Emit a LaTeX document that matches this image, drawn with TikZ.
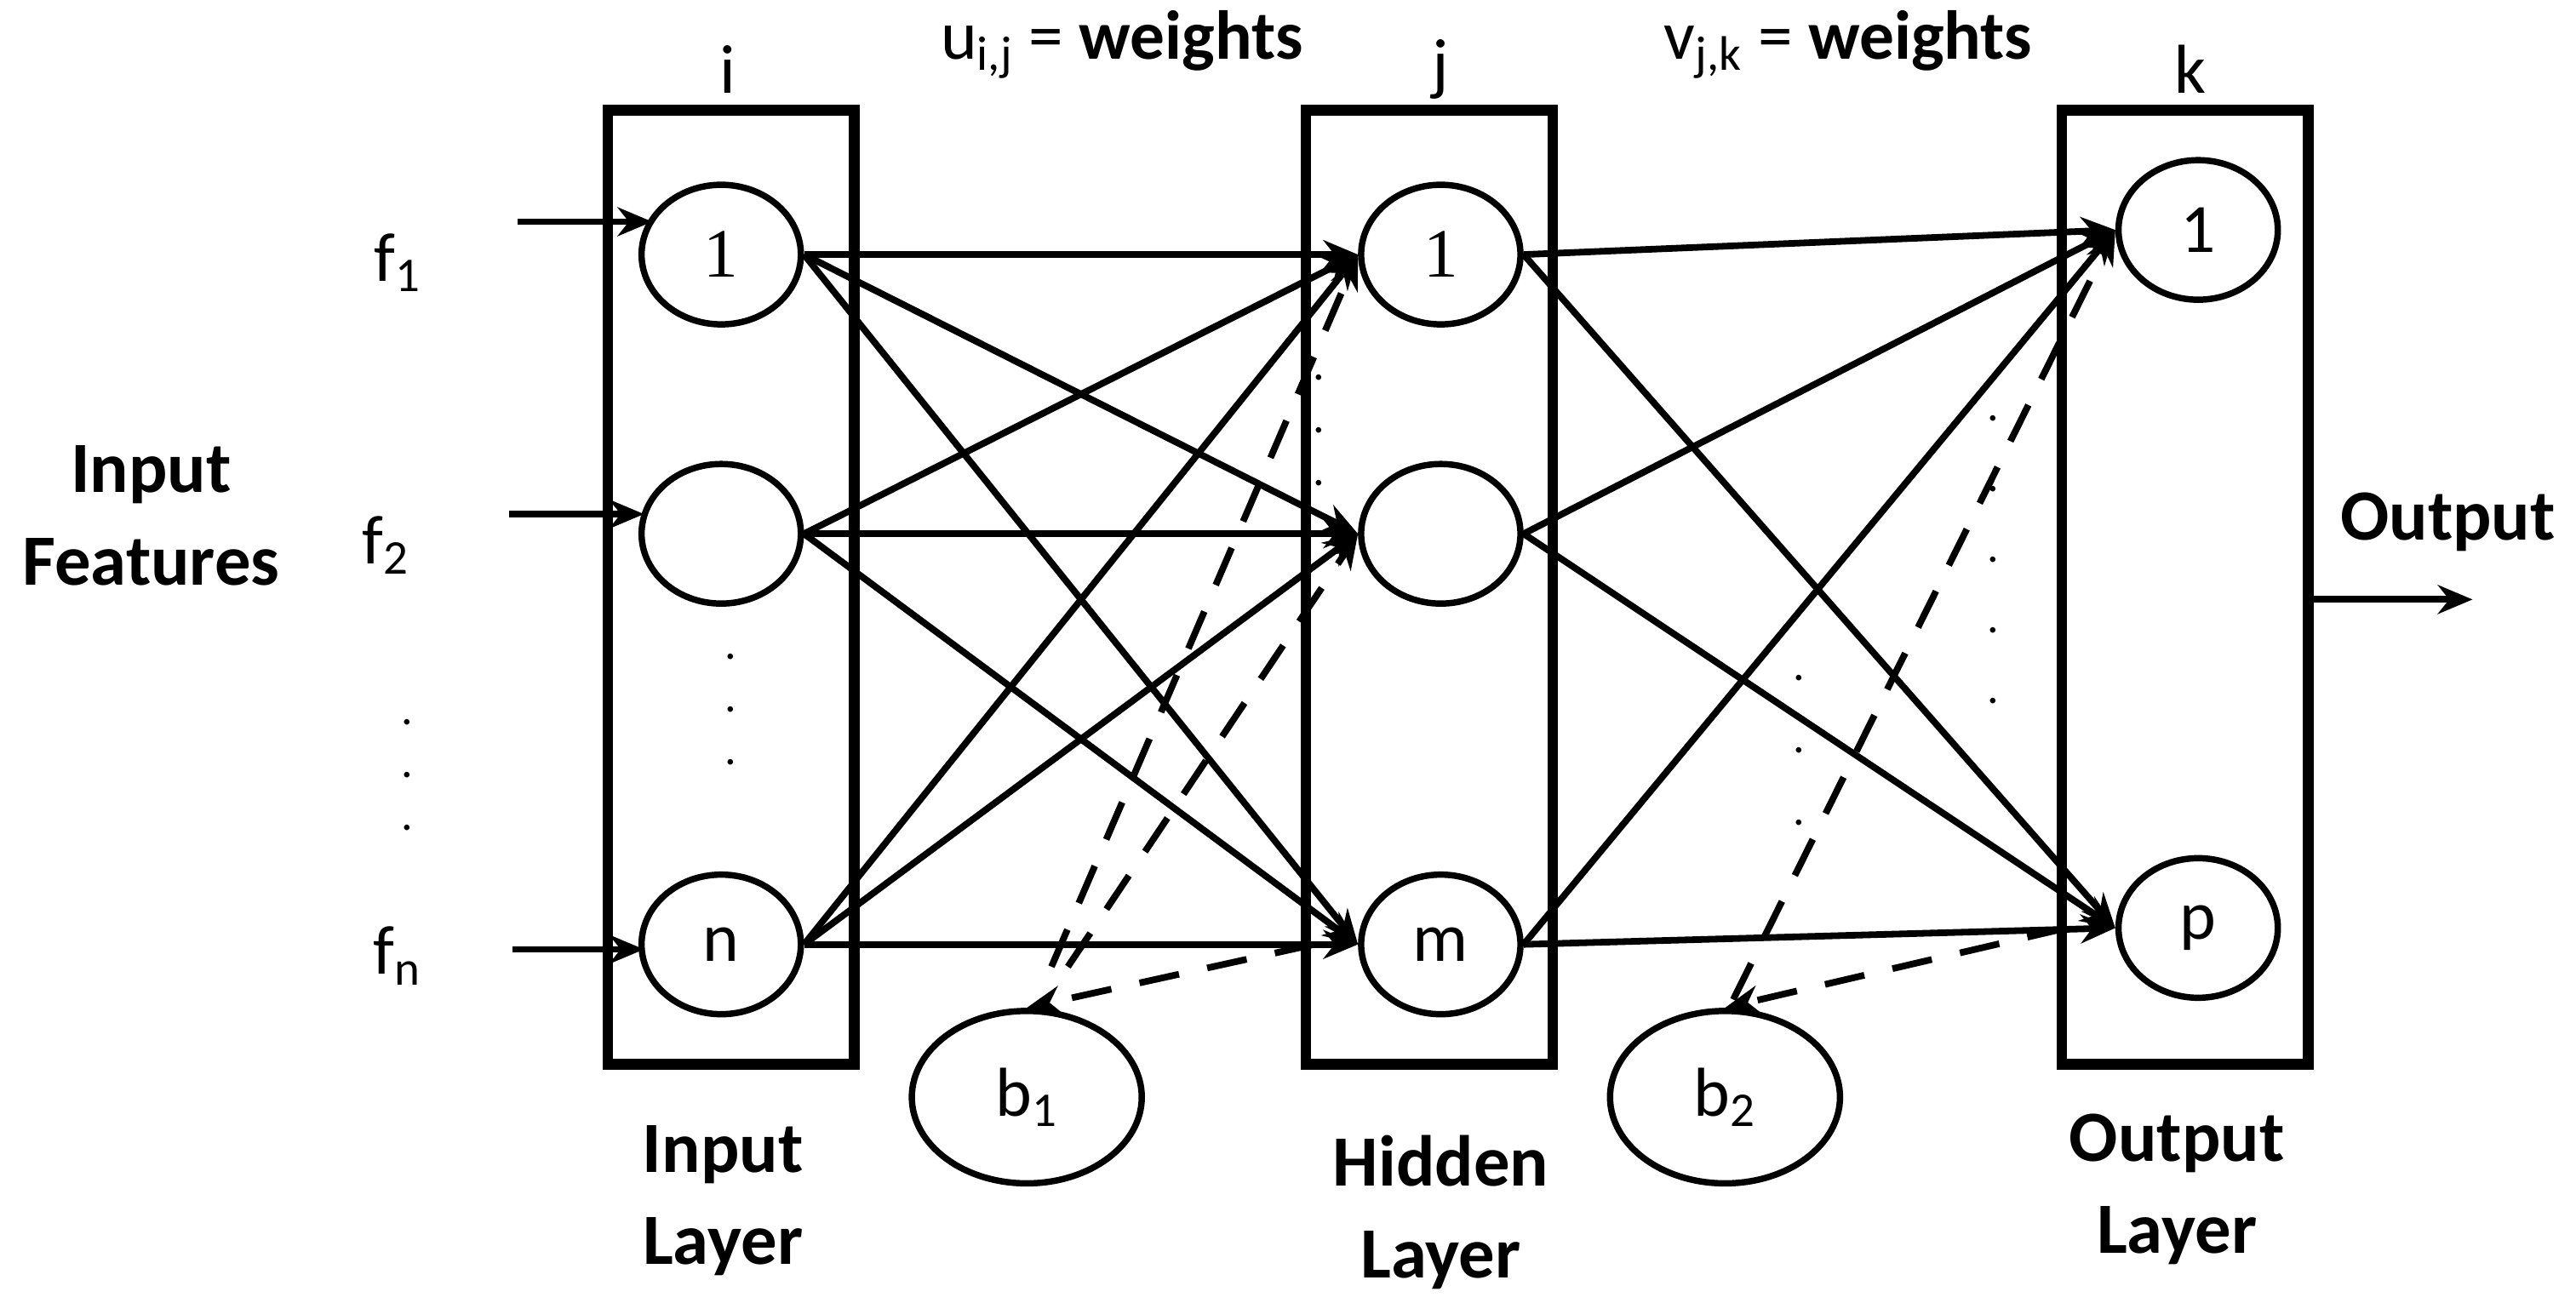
\documentclass[tikz,border=0pt]{standalone}
\usepackage{fontspec}
\setmainfont{Carlito}
\newfontfamily\serifnum{Liberation Serif}
\usetikzlibrary{arrows.meta,shapes.geometric}
\begin{document}
\begin{tikzpicture}[x=0.02cm,y=-0.02cm,
  neuron/.style={draw,ellipse,line width=2.2pt,minimum width=1.94cm,minimum height=1.7cm,inner sep=0pt,font=\fontsize{24}{28}\selectfont},
  bias/.style={neuron,minimum width=2.8cm,minimum height=2.1cm},
  layer/.style={draw,line width=3.6pt},
  conn/.style={line width=2.3pt,-{Stealth[length=12pt,width=10pt]}},
  dconn/.style={conn,dashed,dash pattern=on 14pt off 10pt},
  lbl/.style={font=\fontsize{24}{28}\selectfont},
  blbl/.style={font=\fontsize{25}{32}\selectfont\bfseries,align=center},
  dot/.style={font=\fontsize{16}{16}\selectfont}]
\useasboundingbox (0,0) rectangle (1568,793);
% layer boxes
\node[layer,minimum width=3cm,minimum height=11.62cm] (LI) at (445,357.5) {};
\node[layer,minimum width=3cm,minimum height=11.62cm] (LH) at (870,357.5) {};
\node[layer,minimum width=3cm,minimum height=11.62cm] (LO) at (1330,357.5) {};
% neurons
\node[neuron] (I1) at (439,155) {\serifnum 1};
\node[neuron] (I2) at (439,325) {};
\node[neuron] (In) at (439,575) {n};
\node[neuron] (H1) at (877,155) {\serifnum 1};
\node[neuron] (H2) at (877,325) {};
\node[neuron] (Hm) at (877,575) {m};
\node[neuron] (O1) at (1338,140) {1};
\node[neuron] (Op) at (1338,565) {p};
\node[bias] (B1) at (625,668) {b\textsubscript{1}};
\node[bias] (B2) at (1050,668) {b\textsubscript{2}};
% top labels
\node[lbl] (li) at (443,42) {i};
\node[lbl] (lj) at (877,42) {j};
\node[lbl] (lk) at (1333,42) {k};
\node[lbl] (uw) at (683,27) {u\textsubscript{i,j} = \textbf{weights}};
\node[lbl] (vw) at (1125,27) {v\textsubscript{j,k} = \textbf{weights}};
% feature labels
\node[lbl] (f1) at (242,160) {f\textsubscript{1}};
\node[lbl] (f2) at (235,332) {f\textsubscript{2}};
\node[lbl] (fn) at (242,582) {f\textsubscript{n}};
\node[blbl] (IF) at (92,314) {Input\\Features};
\node[blbl] (OUT) at (1490,318) {Output};
\node[blbl] (LIL) at (440,731) {Input\\Layer};
\node[blbl] (LHL) at (877,738) {Hidden\\Layer};
\node[blbl] (LOL) at (1325,724) {Output\\Layer};
% input arrows
\coordinate (a1) at (315,135); \coordinate (a1e) at (397,135);
\coordinate (a2) at (310,313); \coordinate (a2e) at (392,313);
\coordinate (a3) at (312,578); \coordinate (a3e) at (392,578);
\draw[conn] (a1) -- (a1e);
\draw[conn] (a2) -- (a2e);
\draw[conn] (a3) -- (a3e);
\coordinate (oe) at (1505,365);
\draw[conn] (LO.east |- oe) -- (oe);
% input -> hidden
\foreach \s in {I1,I2,In}{
  \foreach \t in {H1,H2,Hm}{
    \draw[conn] (\s.east) -- (\t.west);
  }
}
% hidden -> output
\foreach \s in {H1,H2,Hm}{
  \foreach \t in {O1,Op}{
    \draw[conn] (\s.east) -- (\t.west);
  }
}
% bias connections
\draw[dconn] (B1.north) ++(15,-25) -- (H1.west);
\draw[dconn] (B1.north) ++(25,-25) -- (H2.west);
\coordinate (hb) at (800,575);
\draw[dconn] (hb) -- (B1.north);
\draw[dconn] (B2.north) ++(5,-5) -- (O1.west);
\coordinate (ob) at (1258,565);
\draw[dconn] (ob) -- (B2.north);
% dots
\foreach \y in {440,472,504} \node[dot] at (248,\y) {.};
\foreach \y in {400,432,464} \node[dot] at (445,\y) {.};
\foreach \y in {230,262,294} \node[dot] at (803,\y) {.};
\foreach \y in {255,298,341,384,427} \node[dot] at (1213,\y) {.};
\foreach \y in {413,457,501} \node[dot] at (1095,\y) {.};
\end{tikzpicture}
\end{document}
